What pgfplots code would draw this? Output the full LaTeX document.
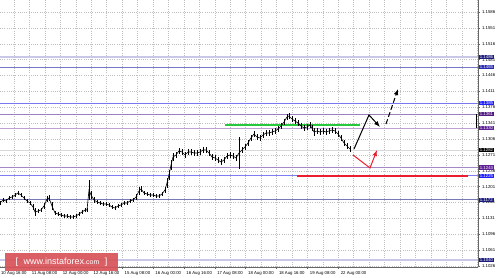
\documentclass[border=0pt]{standalone}
\usepackage{pgfplots}
\usepackage{pgfplotstable}
\pgfplotsset{compat=1.18}
\usepackage{fontspec}
\setmainfont{Liberation Sans}
\usetikzlibrary{arrows.meta}
\newcommand\tf{\fontsize{4.3}{5}\selectfont}
\definecolor{lav}{RGB}{200,200,230}
\definecolor{l1465}{RGB}{120,120,200}
\definecolor{l1385}{RGB}{120,120,240}
\definecolor{l1361}{RGB}{156,126,188}
\definecolor{l1330}{RGB}{190,160,212}
\definecolor{l1243}{RGB}{166,136,196}
\definecolor{l1225}{RGB}{126,126,240}
\definecolor{l1172}{RGB}{120,120,180}
\definecolor{bnavy}{RGB}{28,28,124}
\definecolor{bblue}{RGB}{40,40,176}
\definecolor{bbright}{RGB}{32,32,255}
\definecolor{bpurple}{RGB}{80,24,128}
\definecolor{bpurple2}{RGB}{96,32,150}
\definecolor{gline}{RGB}{40,200,60}
\definecolor{redline}{RGB}{235,30,45}
\definecolor{wm}{RGB}{216,82,88}
\pgfplotstableread{
x y e
0 1.11650 0.00044
3 1.11716 0.00044
6 1.11694 0.00044
9 1.11760 0.00044
12 1.11782 0.00044
15 1.11826 0.00044
18 1.11870 0.00044
21 1.11826 0.00044
24 1.11760 0.00044
27 1.11694 0.00044
30 1.11650 0.00044
33 1.11561 0.00066
35 1.11451 0.00088
38 1.11473 0.00044
41 1.11495 0.00044
44 1.11583 0.00066
47 1.11738 0.00066
49 1.11760 0.00066
52 1.11583 0.00088
55 1.11429 0.00044
58 1.11407 0.00044
61 1.11385 0.00044
64 1.11363 0.00044
67 1.11363 0.00044
70 1.11341 0.00044
73 1.11341 0.00044
76 1.11363 0.00044
79 1.11407 0.00044
82 1.11451 0.00044
85 1.11495 0.00044
87 1.11495 0.00044
89 1.11936 0.00231
91 1.11826 0.00088
94 1.11716 0.00066
97 1.11672 0.00044
100 1.11650 0.00044
103 1.11628 0.00044
106 1.11628 0.00044
109 1.11606 0.00044
112 1.11561 0.00044
115 1.11539 0.00044
118 1.11583 0.00044
121 1.11606 0.00044
124 1.11650 0.00044
127 1.11650 0.00044
130 1.11694 0.00044
133 1.11716 0.00044
136 1.11782 0.00066
139 1.11914 0.00088
141 1.11958 0.00066
144 1.11870 0.00044
147 1.11848 0.00044
150 1.11826 0.00044
153 1.11826 0.00044
156 1.11804 0.00044
159 1.11804 0.00044
162 1.11848 0.00044
165 1.11936 0.00066
167 1.12091 0.00110
169 1.12267 0.00110
171 1.12487 0.00110
173 1.12664 0.00088
176 1.12708 0.00066
179 1.12796 0.00066
182 1.12774 0.00066
185 1.12708 0.00066
188 1.12774 0.00066
191 1.12774 0.00066
194 1.12752 0.00066
197 1.12752 0.00066
200 1.12774 0.00066
203 1.12818 0.00066
206 1.12818 0.00066
209 1.12752 0.00066
212 1.12664 0.00066
215 1.12642 0.00066
218 1.12598 0.00066
221 1.12553 0.00066
224 1.12598 0.00066
227 1.12686 0.00066
230 1.12708 0.00066
233 1.12686 0.00066
236 1.12642 0.00066
239 1.12752 0.00353
242 1.12818 0.00066
245 1.12884 0.00066
248 1.12972 0.00066
251 1.13083 0.00066
254 1.13171 0.00066
257 1.13105 0.00066
260 1.13083 0.00066
263 1.13149 0.00066
266 1.13193 0.00066
269 1.13193 0.00066
272 1.13215 0.00066
275 1.13237 0.00066
278 1.13281 0.00066
281 1.13347 0.00066
284 1.13435 0.00066
287 1.13546 0.00066
289 1.13568 0.00066
292 1.13501 0.00066
295 1.13457 0.00066
298 1.13413 0.00066
301 1.13347 0.00066
304 1.13303 0.00066
307 1.13325 0.00066
310 1.13369 0.00066
312 1.13303 0.00066
314 1.13215 0.00088
317 1.13237 0.00066
320 1.13215 0.00066
323 1.13237 0.00066
326 1.13215 0.00066
329 1.13237 0.00066
332 1.13259 0.00066
335 1.13237 0.00066
338 1.13171 0.00066
341 1.13083 0.00066
344 1.12972 0.00066
347 1.12906 0.00066
350 1.12840 0.00066
}\price
\begin{document}
\begin{tikzpicture}
\begin{axis}[
  at={(0pt,11pt)}, anchor=south west,
  scale only axis, width=478pt, height=267pt,
  xmin=0, xmax=478, ymin=1.10238, ymax=1.16125,
  axis x line*=bottom, axis y line*=right,
  axis line style={-, black!60, line width=0.6pt},
  clip=false,
  tick align=outside, major tick length=2pt, minor tick length=0pt,
  tick style={black!60, line width=0.4pt},
  xtick={29.44,60.32,91.2,122.08,152.96,183.84,214.72,245.6,276.48,307.36,338.24},
  xticklabels={11 Aug 08:00,12 Aug 00:00,12 Aug 16:00,15 Aug 08:00,16 Aug 00:00,16 Aug 16:00,17 Aug 08:00,18 Aug 00:00,18 Aug 16:00,19 Aug 08:00,22 Aug 00:00},
  minor xtick={14,44.88,75.76,106.64,137.52,168.4,199.28,230.16,261.04,291.92,322.8,353.68,369.12,384.56,400,415.44,430.88,446.32,461.76,477.2},
  ytick={1.1026,1.1061,1.1096,1.1131,1.1166,1.1201,1.1236,1.1271,1.1306,1.1341,1.1376,1.1411,1.1446,1.1481,1.1516,1.1551,1.1586},
  yticklabels={1.1026,1.1061,1.1096,1.1131,1.1166,1.1201,1.1236,1.1271,1.1306,1.1341,1.1376,1.1411,1.1446,1.1481,1.1516,1.1551,1.1586},
  xticklabel style={font=\tf, anchor=north west, xshift=-1pt, yshift=1pt},
  yticklabel style={font=\tf, anchor=west, xshift=-1.5pt},
  grid=both,
  major grid style={black!25, dash pattern=on 1pt off 1.2pt, line width=0.4pt},
  minor grid style={black!25, dash pattern=on 1pt off 1.2pt, line width=0.4pt},
]
% horizontal levels
\addplot[lav, line width=2pt] coordinates {(0,1.1486) (478,1.1486)};
\addplot[l1465, line width=0.7pt] coordinates {(0,1.1465) (478,1.1465)};
\addplot[l1385, line width=0.7pt] coordinates {(0,1.1385) (478,1.1385)};
\addplot[l1361, line width=0.7pt] coordinates {(0,1.1361) (478,1.1361)};
\addplot[l1330, line width=0.7pt] coordinates {(0,1.1330) (478,1.1330)};
\addplot[black!15, line width=0.6pt] coordinates {(0,1.1282) (478,1.1282)};
\addplot[l1243, line width=0.7pt] coordinates {(0,1.1243) (478,1.1243)};
\addplot[l1225, line width=0.7pt] coordinates {(0,1.1225) (297,1.1225)};
\addplot[redline, line width=2pt] coordinates {(297,1.1225) (468,1.1225)};
\addplot[l1225, line width=0.7pt] coordinates {(468,1.1225) (478,1.1225)};
\addplot[l1172, line width=0.7pt] coordinates {(0,1.1172) (478,1.1172)};
\addplot[lav, line width=2pt] coordinates {(0,1.1040) (478,1.1040)};
\addplot[gline, line width=1.3pt] coordinates {(225,1.13369) (360,1.13369)};
\addplot[black, line width=0.7pt] coordinates {(476,1.1361) (476,1.1330)};
% price bars
\addplot[black, line width=0.6pt, mark=none,
  error bars/.cd, y dir=both, y explicit, error mark=none,
  error bar style={black, line width=0.5pt}]
  table[x=x, y=y, y error=e] {\price};
% arrows
\addplot[black, line width=1pt, -{Latex[length=6pt,width=4.5pt]}] coordinates {(354,1.12840) (369,1.13590) (380,1.13325)};
\addplot[black, line width=1pt, dash pattern=on 5pt off 2.5pt, -{Latex[length=6pt,width=4.5pt]}] coordinates {(386,1.13391) (398,1.14163)};
\addplot[redline, line width=1pt, -{Latex[length=6pt,width=4.5pt]}] coordinates {(353,1.12708) (370,1.12421) (377,1.12818)};
\coordinate (A) at (axis cs:478.5,1.1486);
\coordinate (B) at (axis cs:478.5,1.1465);
\coordinate (C) at (axis cs:478.5,1.1385);
\coordinate (D) at (axis cs:478.5,1.1361);
\coordinate (E) at (axis cs:478.5,1.1330);
\coordinate (F) at (axis cs:478.5,1.1282);
\coordinate (G) at (axis cs:478.5,1.1243);
\coordinate (H) at (axis cs:478.5,1.1225);
\coordinate (I) at (axis cs:478.5,1.1172);
\coordinate (J) at (axis cs:478.5,1.1040);
\coordinate (K) at (axis cs:-2.5,1.10238);
\end{axis}
\tikzset{lb/.style={anchor=west, text=white, font=\tf, inner xsep=1.2pt, inner ysep=0.6pt}}
\node[lb, fill=bnavy] at (A) {1.1486};
\node[lb, fill=bblue] at (B) {1.1465};
\node[lb, fill=bbright] at (C) {1.1385};
\node[lb, fill=bpurple] at (D) {1.1361};
\node[lb, fill=bpurple2] at (E) {1.1330};
\node[lb, fill=black] at (F) {1.1282};
\node[lb, fill=bpurple2] at (G) {1.1243};
\node[lb, fill=bbright] at (H) {1.1225};
\node[lb, fill=bnavy] at (I) {1.1172};
\node[lb, fill=bnavy] at (J) {1.1040};
\node[anchor=north west, font=\tf, yshift=-1pt, inner sep=0.333em] at (K) {10 Aug 16:00};
\fill[wm, opacity=0.92] (5pt,7pt) rectangle (118pt,25pt);
\node[text=white, font=\fontsize{9}{10}\selectfont] at (61.5pt,16pt) {[\,\, www.instaforex{\fontsize{7}{8}\selectfont .com}\,\, ]};
\pgfresetboundingbox
\useasboundingbox (0,0) rectangle (500pt,278pt);
\end{tikzpicture}
\end{document}
